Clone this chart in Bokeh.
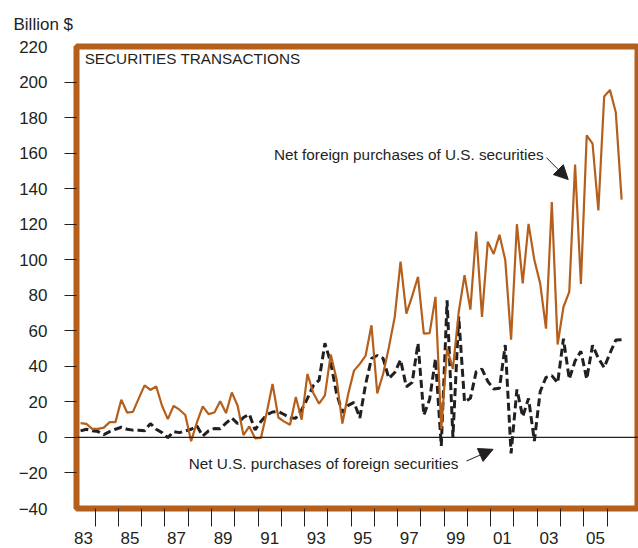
from bokeh.plotting import figure
from bokeh.models import (FixedTicker, Span, Label, Arrow, NormalHead, Range1d,
                          ColumnDataSource)
from bokeh.embed import file_html
from bokeh.resources import INLINE

# ---- data (quarterly, 1983Q2 .. 2006Q3, billions of dollars) ----
start_year = 1983
start_quarter = 2

foreign_purchases_us_securities = [
    8.0, 7.6, 4.8, 4.8, 5.5, 8.6, 8.6, 21.2, 14.0, 14.4,
    22.0, 29.3, 26.7, 28.7, 17.8, 10.3, 17.8, 15.6, 12.6, -2.1,
    8.5, 17.5, 13.1, 14.0, 20.4, 13.7, 25.3, 17.8, 1.3, 6.2,
    -0.5, -0.3, 14.0, 30.1, 11.2, 8.9, 7.1, 22.7, 10.0, 35.7,
    25.0, 19.0, 23.7, 46.7, 32.9, 7.8, 24.4, 37.6, 41.4, 46.1,
    63.1, 24.8, 35.7, 50.8, 67.8, 98.9, 69.7, 79.5, 90.4, 58.4,
    58.7, 79.1, 4.6, 49.9, 38.6, 70.6, 91.3, 71.9, 115.8, 67.8,
    110.2, 103.2, 114.0, 99.8, 55.0, 120.0, 86.7, 120.2, 99.8, 86.7,
    61.2, 132.5, 52.3, 73.4, 81.9, 153.6, 86.3, 170.0, 165.4, 127.7,
    191.9, 195.6, 182.8, 133.8,
]

us_purchases_foreign_securities = [
    3.7, 4.6, 3.7, 3.3, 1.6, 3.3, 4.6, 5.7, 4.6, 4.1,
    4.1, 3.7, 7.8, 4.6, 2.7, -0.1, 3.3, 2.7, 3.7, 4.6,
    6.5, 0.8, 3.7, 5.0, 4.9, 8.0, 10.9, 7.8, 11.2, 13.1,
    4.2, 9.0, 12.7, 14.3, 14.5, 12.9, 11.0, 10.8, 15.5, 22.0,
    29.1, 32.2, 53.0, 42.0, 24.8, 14.0, 18.0, 19.7, 11.0, 30.0,
    44.4, 46.1, 44.5, 33.2, 36.5, 43.7, 28.5, 31.0, 53.0, 12.6,
    21.5, 44.2, -4.8, 77.2, 0.2, 68.0, 20.0, 22.0, 37.0, 38.5,
    31.5, 27.3, 27.7, 52.0, -9.0, 27.0, 11.7, 22.0, -2.0, 25.8,
    33.8, 34.8, 30.7, 55.5, 32.9, 43.0, 48.5, 32.9, 51.8, 44.6,
    39.3, 47.5, 54.8, 55.0,
]

year_label_years = [1983, 1985, 1987, 1989, 1991, 1993, 1995, 1997, 1999,
                    2001, 2003, 2005]
year_labels = ["83", "85", "87", "89", "91", "93", "95", "97", "99",
               "01", "03", "05"]
y_tick_values = [-40, -20, 0, 20, 40, 60, 80, 100, 120, 140, 160, 180, 200, 220]

# quarter midpoints as decimal years
n = len(foreign_purchases_us_securities)
t = []
for i in range(n):
    q = start_quarter - 1 + i
    yr = start_year + q // 4
    qq = q % 4 + 1
    t.append(yr + (qq - 0.5) / 4.0)

src = ColumnDataSource(dict(t=t,
                            foreign=foreign_purchases_us_securities,
                            us=us_purchases_foreign_securities))

BROWN = "#b55f1c"
INK = "#231f20"
FONT = "Liberation Sans"

p = figure(width=638, height=548, output_backend="svg", toolbar_location=None,
           x_range=Range1d(1983.2, 2007.35), y_range=Range1d(-40, 220),
           min_border_left=76, min_border_right=0, min_border_top=46,
           min_border_bottom=40, title="Billion $")
p.outline_line_color = BROWN
p.outline_line_width = 6
p.outline_line_alpha = 1.0
p.grid.visible = False
p.background_fill_color = "white"
p.border_fill_color = "white"

# "Billion $" as title, pushed to the left edge
p.title.align = "left"
p.title.offset = -63
p.title.standoff = 25
p.title.text_font = FONT
p.title.text_font_size = "17px"
p.title.text_font_style = "normal"
p.title.text_color = INK

# x axis: ticks at year boundaries (minor), labels at mid-year (major)
xt = FixedTicker(ticks=[y + 0.5 for y in year_label_years],
                 minor_ticks=list(range(1984, 2007)))
p.xaxis.ticker = xt
p.xaxis.major_label_overrides = {y + 0.5: lab for y, lab in zip(year_label_years, year_labels)}
p.xaxis.axis_line_color = None
p.xaxis.major_tick_line_color = None
p.xaxis.major_tick_out = 18
p.xaxis.major_tick_in = 0
p.xaxis.minor_tick_line_color = INK
p.xaxis.minor_tick_line_width = 1
p.xaxis.minor_tick_out = 18
p.xaxis.minor_tick_in = 0
p.xaxis.major_label_standoff = 5
p.xaxis.major_label_text_font = FONT
p.xaxis.major_label_text_font_size = "17px"
p.xaxis.major_label_text_color = INK

# y axis
yt = FixedTicker(ticks=y_tick_values, minor_ticks=y_tick_values[1:-1])
p.yaxis.ticker = yt
p.yaxis.major_label_overrides = {v: (("\u2212" + str(-v)) if v < 0 else str(v)) for v in y_tick_values}
p.yaxis.axis_line_color = None
p.yaxis.major_tick_line_color = None
p.yaxis.major_tick_out = 12
p.yaxis.major_tick_in = 0
p.yaxis.minor_tick_line_color = INK
p.yaxis.minor_tick_line_width = 1
p.yaxis.minor_tick_out = 12
p.yaxis.minor_tick_in = 0
p.yaxis.major_label_standoff = 17
p.yaxis.major_label_text_font = FONT
p.yaxis.major_label_text_font_size = "17px"
p.yaxis.major_label_text_color = INK

# zero line
p.add_layout(Span(location=0, dimension="width", line_color=INK, line_width=1.2))

# series
p.line("t", "us", source=src, line_color=INK, line_width=3, line_dash="8 4")
p.line("t", "foreign", source=src, line_color=BROWN, line_width=2.2)

# texts
p.add_layout(Label(x=1983.55, y=213.5, text="SECURITIES TRANSACTIONS",
                   text_font=FONT, text_font_size="15.3px", text_color=INK,
                   text_baseline="middle", text_align="left"))
p.add_layout(Label(x=2003.27, y=159.5, text="Net foreign purchases of U.S. securities",
                   text_font=FONT, text_font_size="15.3px", text_color=INK,
                   text_baseline="middle", text_align="right"))
p.add_layout(Label(x=1999.79, y=-14.8, text="Net U.S.  purchases of foreign securities",
                   text_font=FONT, text_font_size="15.3px", text_color=INK,
                   text_baseline="middle", text_align="right"))

# arrows
p.add_layout(Arrow(x_start=2003.39, y_start=157.5, x_end=2004.33, y_end=145.1,
                   line_color=INK, line_width=1,
                   end=NormalHead(size=14, fill_color=INK, line_color=INK)))
p.add_layout(Arrow(x_start=1999.96, y_start=-13.3, x_end=2001.1, y_end=-6.7,
                   line_color=INK, line_width=1,
                   end=NormalHead(size=14, fill_color=INK, line_color=INK)))

open("out.html", "w").write(file_html(p, INLINE))
